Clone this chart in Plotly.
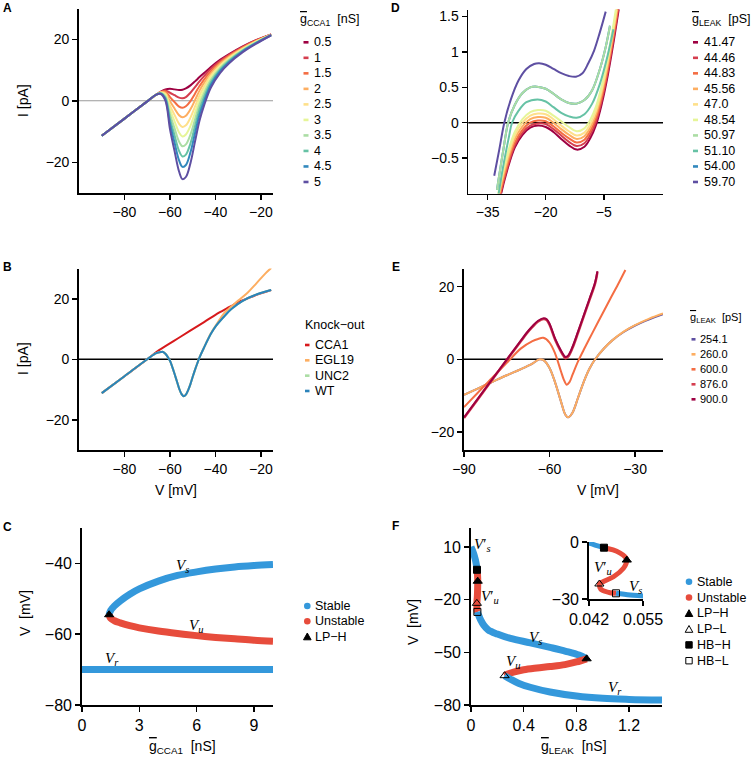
import plotly.graph_objects as go

W, H = 755, 758
SANS = "Liberation Sans, Arial, Helvetica, sans-serif"
SERIF = "Liberation Serif, Times New Roman, serif"
BLUE = "#3498db"
RED = "#e74c3c"
SPECTRAL10 = ["#9e0142", "#d53e4f", "#f46d43", "#fdae61", "#fee08b",
              "#e6f598", "#abdda4", "#66c2a5", "#3288bd", "#5e4fa2"]

# ---------------- panel A: I-V curves for several g_CCA1 ----------------
A_LABELS = ["0.5", "1", "1.5", "2", "2.5", "3", "3.5", "4", "4.5", "5"]
A_V = [-90, -80, -70, -66, -64, -62, -60, -58, -56, -54.5, -53, -51, -49, -47,
       -45, -42, -38, -34, -28, -22, -15.5]
A_I_05 = [-11.4, -5.8, -0.2, 2.0, 3.0, 3.7, 3.9, 3.7, 3.5, 3.6, 4.0, 5.0, 6.3, 7.7, 9.0, 11.0, 13.3, 15.2, 17.7, 19.8, 21.6]
A_I_10 = [-11.4, -5.8, -0.2, 2.0, 2.9, 3.3, 2.6, 1.8, 1.0, 0.8, 1.2, 2.6, 4.4, 6.3, 8.0, 10.4, 12.9, 14.9, 17.5, 19.7, 21.6]
A_I_15 = [-11.4, -5.8, -0.2, 2.0, 2.8, 3.0, 1.2, -0.4, -1.9, -2.3, -1.8, -0.1, 2.3, 4.8, 6.9, 9.6, 12.4, 14.6, 17.3, 19.6, 21.5]
A_I_20 = [-11.4, -5.8, -0.2, 2.0, 2.8, 2.6, -0.2, -2.5, -4.7, -5.4, -4.9, -2.8, 0.2, 3.3, 5.8, 8.9, 12.0, 14.3, 17.1, 19.4, 21.5]
A_I_25 = [-11.4, -5.8, -0.2, 2.0, 2.7, 2.2, -1.6, -4.6, -7.5, -8.5, -8.0, -5.5, -1.9, 1.8, 4.6, 8.2, 11.5, 14.0, 16.9, 19.3, 21.5]
A_I_30 = [-11.4, -5.8, -0.2, 2.0, 2.6, 1.8, -2.9, -6.7, -10.3, -11.6, -11.0, -8.2, -3.9, 0.3, 3.5, 7.5, 11.1, 13.6, 16.7, 19.2, 21.4]
A_I_35 = [-11.4, -5.8, -0.2, 2.0, 2.5, 1.4, -4.4, -8.9, -13.3, -14.8, -14.2, -11.0, -6.1, -1.2, 2.4, 6.8, 10.6, 13.3, 16.5, 19.0, 21.4]
A_I_40 = [-11.4, -5.8, -0.2, 2.0, 2.4, 0.9, -5.9, -11.2, -16.3, -18.1, -17.5, -13.9, -8.3, -2.8, 1.2, 6.0, 10.1, 13.0, 16.3, 18.9, 21.4]
A_I_45 = [-11.4, -5.8, -0.2, 2.0, 2.3, 0.5, -7.4, -13.6, -19.4, -21.5, -20.9, -16.8, -10.6, -4.5, -0.1, 5.2, 9.6, 12.6, 16.1, 18.8, 21.3]
A_I_50 = [-11.4, -5.8, -0.2, 2.0, 2.2, 0.0, -9.2, -16.3, -23.0, -25.5, -24.8, -20.3, -13.3, -6.4, -1.5, 4.3, 9.0, 12.2, 15.8, 18.6, 21.3]

# ---------------- panel B: knock-outs ----------------
B_LABELS = ["CCA1", "EGL19", "UNC2", "WT"]
B_COLORS = ["#d7191c", "#fdae61", "#abdda4", "#2b83ba"]
B_V_WT = [-90, -80, -70, -66, -64, -63, -62, -61, -60, -59, -58, -57, -56, -55, -54, -53,
          -52, -51, -50, -49, -48, -47, -45, -42, -40, -36, -33, -28, -22, -15.5]
B_I_WT = [-11.2, -5.6, 0.0, 2.0, 2.4, 2.4, 1.8, 0.8, -0.5, -2.5, -4.8, -7.2, -9.6, -11.4, -12.2, -11.7,
          -10.2, -8.2, -5.8, -3.5, -1.4, 0.6, 3.9, 8.4, 10.8, 14.3, 16.6, 19.3, 21.4, 22.9]
B_V_CCA1 = [-90, -80, -70, -64.8, -55, -45, -40, -35, -30, -25, -20, -15.5]
B_I_CCA1 = [-11.2, -5.6, 0.0, 3.0, 7.6, 12.3, 14.7, 16.8, 18.8, 20.4, 21.8, 22.9]
B_V_EGL19 = [-90, -80, -70, -66, -64, -63, -62, -61, -60, -59, -58, -57, -56, -55, -54, -53,
             -52, -51, -50, -49, -48, -47, -45, -42, -40, -36, -33, -30, -26, -22, -18, -15.5]
B_I_EGL19 = [-11.2, -5.6, 0.0, 2.0, 2.4, 2.4, 1.8, 0.8, -0.5, -2.5, -4.8, -7.2, -9.6, -11.4, -12.2, -11.7,
             -10.2, -8.2, -5.8, -3.5, -1.4, 0.6, 3.9, 8.6, 11.0, 15.4, 17.4, 19.4, 21.9, 25.1, 28.4, 30.2]
B_V_UNC2 = B_V_WT
B_I_UNC2 = B_I_WT

# ---------------- panel C: bifurcation vs g_CCA1 ----------------
C_G_BRANCH = [1.42, 1.5, 1.7, 2.0, 2.5, 3.0, 4.0, 5.0, 6.0, 7.0, 8.0, 9.0, 10.0]
C_V_STABLE = [-54.5, -53.3, -52.0, -50.6, -48.7, -47.2, -45.0, -43.4, -42.4, -41.6, -41.0, -40.6, -40.3]
C_V_UNSTABLE = [-54.5, -55.5, -56.2, -56.8, -57.6, -58.2, -59.1, -59.8, -60.4, -60.9, -61.3, -61.7, -62.0]
C_G_REST = [0, 10]
C_V_REST = [-70, -70]
C_LPH_G = [1.42]
C_LPH_V = [-54.5]

# ---------------- panel D: I-V near the upper fold ----------------
D_LABELS = ["41.47", "44.46", "44.83", "45.56", "47.0", "48.54", "50.97", "51.10", "54.00", "59.70"]
D_V_LOW = [-32.5, -31.5, -30, -28, -26, -24, -22, -20, -18, -16, -14, -12, -10, -8.5, -7, -5.5, -4, -2.5, -1]
D_I_4147 = [-1.30, -1.00, -0.68, -0.35, -0.17, -0.07, -0.04, -0.06, -0.13, -0.23, -0.32, -0.38, -0.34, -0.22, -0.03, 0.27, 0.66, 1.13, 1.65]
D_I_4446 = [-1.27, -0.97, -0.65, -0.32, -0.14, -0.04, -0.01, -0.02, -0.09, -0.18, -0.27, -0.33, -0.29, -0.17, 0.02, 0.32, 0.71, 1.18, 1.70]
D_I_4483 = [-1.23, -0.93, -0.61, -0.28, -0.10, 0.00, 0.03, 0.02, -0.05, -0.14, -0.22, -0.28, -0.24, -0.12, 0.07, 0.37, 0.76, 1.23, 1.75]
D_I_4556 = [-1.18, -0.88, -0.56, -0.23, -0.05, 0.05, 0.08, 0.07, 0.00, -0.09, -0.17, -0.23, -0.19, -0.07, 0.12, 0.42, 0.81, 1.28, 1.80]
D_I_4700 = [-1.13, -0.83, -0.51, -0.18, 0.00, 0.10, 0.13, 0.12, 0.05, -0.04, -0.12, -0.18, -0.14, -0.02, 0.17, 0.47, 0.86, 1.33, 1.85]
D_I_4854 = [-1.08, -0.78, -0.46, -0.13, 0.05, 0.15, 0.18, 0.17, 0.10, 0.02, -0.06, -0.12, -0.08, 0.04, 0.23, 0.53, 0.92, 1.39, 1.91]
D_V_5097 = [-32.6, -31, -29.7, -28, -26, -24, -22.3, -20, -18, -16, -14, -12, -10, -8, -6, -4.5, -3.4]
D_I_5097 = [-0.95, -0.40, 0.00, 0.25, 0.42, 0.50, 0.51, 0.48, 0.41, 0.33, 0.28, 0.27, 0.32, 0.46, 0.76, 1.07, 1.37]
D_V_5110 = [-32.2, -31, -29.5, -28.7, -27, -25, -22.1, -20, -18, -16, -14, -12, -10, -8, -6, -4, -2.5]
D_I_5110 = [-1.02, -0.62, -0.20, 0.00, 0.17, 0.29, 0.33, 0.30, 0.22, 0.14, 0.09, 0.07, 0.12, 0.27, 0.55, 0.95, 1.32]
D_V_5400 = D_V_5097
D_I_5400 = D_I_5097
D_V_5970 = [-33.3, -32, -30.7, -29, -27, -25, -23, -21.7, -20, -18, -16, -14, -12.2, -10.5, -9, -7.5, -6, -4.5]
D_I_5970 = [-0.75, -0.38, 0.00, 0.33, 0.60, 0.76, 0.83, 0.84, 0.82, 0.76, 0.70, 0.66, 0.65, 0.70, 0.84, 1.02, 1.28, 1.57]

# ---------------- panel E: I-V for large g_LEAK ----------------
E_LABELS = ["254.1", "260.0", "600.0", "876.0", "900.0"]
E_COLORS = ["#5e4fa2", "#fdae61", "#f46d43", "#d53e4f", "#9e0142"]
E_V_260 = [-90, -85, -80, -75, -70, -66, -63.5, -62, -60, -58, -56, -54.5, -53.5, -52, -50, -48,
           -46, -44, -41, -38, -34, -30, -25, -20.2]
E_I_260 = [-9.8, -8.0, -6.2, -4.4, -2.7, -1.2, 0.0, -0.3, -2.4, -6.5, -11.6, -15.2, -16.0, -14.8, -10.6, -6.2,
           -2.6, 0.0, 2.9, 5.2, 7.6, 9.4, 11.2, 12.6]
E_V_254 = E_V_260
E_I_254 = [-9.8, -8.0, -6.2, -4.4, -2.7, -1.2, 0.0, -0.3, -2.4, -6.5, -11.6, -15.2, -16.0, -14.8, -10.6, -6.2,
           -2.6, 0.0, 2.9, 5.2, 7.5, 9.3, 11.0, 12.4]
E_V_600 = [-90, -85, -80, -75, -70, -66, -64, -62.2, -60, -58, -56, -55, -54, -53, -52, -50, -48,
           -45, -42, -39, -36, -33.4]
E_I_600 = [-13.2, -9.1, -5.0, -1.0, 3.0, 5.0, 5.6, 5.9, 4.6, 1.5, -3.3, -5.6, -7.0, -6.3, -4.4, -0.6, 2.6,
           7.2, 11.7, 16.2, 20.6, 24.6]
E_V_900 = [-90, -85, -80, -75, -70, -68, -66, -64, -62, -61, -60, -58, -56, -55, -54.4, -53.5, -52,
           -50, -48, -46, -44, -43.2]
E_I_900 = [-16.0, -10.7, -5.4, -0.1, 5.2, 7.3, 9.1, 10.6, 11.3, 11.0, 9.8, 5.6, 2.4, 1.1, 0.6, 1.0, 3.3,
           7.6, 12.1, 16.6, 21.2, 24.3]
E_V_876 = E_V_900
E_I_876 = [-16.2, -10.9, -5.5, -0.2, 5.0, 7.1, 8.9, 10.4, 11.1, 10.8, 9.5, 5.3, 2.1, 0.8, 0.3, 0.7, 3.0,
           7.3, 11.8, 16.3, 20.9, 24.0]

# ---------------- panel F: bifurcation vs g_LEAK ----------------
F_G_S1 = [0.0, 0.01, 0.02, 0.03, 0.037, 0.0421, 0.0439, 0.0456]
F_V_S1 = [10.1, 8.3, 6.2, 3.6, 1.5, -0.7, -1.9, -3.0]
F_G_U1 = [0.0456, 0.0478, 0.0495, 0.0507, 0.0511, 0.0509, 0.0503, 0.0479, 0.0454, 0.0445, 0.0446, 0.0451, 0.0471, 0.0485]
F_V_U1 = [-3.0, -4.2, -5.9, -7.8, -9.5, -11.5, -13.8, -18.3, -20.9, -22.1, -23.8, -25.3, -26.7, -27.0]
F_G_S2 = [0.0485, 0.0519, 0.0551, 0.062, 0.075, 0.095, 0.13, 0.2, 0.3, 0.45, 0.6, 0.72, 0.82, 0.878]
F_V_S2 = [-27.0, -27.9, -28.4, -29.6, -31.8, -34.4, -37.2, -39.6, -42.1, -44.6, -47.2, -49.4, -51.6, -53.7]
F_G_U2 = [0.878, 0.8, 0.713, 0.6, 0.5, 0.4, 0.33, 0.28, 0.255]
F_V_U2 = [-53.7, -55.5, -57.0, -58.1, -58.9, -59.9, -61.1, -62.3, -63.3]
F_G_S3 = [0.255, 0.3, 0.36, 0.45, 0.6, 0.8, 1.0, 1.2, 1.45]
F_V_S3 = [-63.3, -65.3, -67.6, -69.9, -72.6, -74.9, -76.2, -76.8, -77.2]
F_LPH_G = [0.0511, 0.878]
F_LPH_V = [-9.5, -53.7]
F_LPL_G = [0.0445, 0.255]
F_LPL_V = [-22.1, -63.3]
F_HBH_G = [0.0456]
F_HBH_V = [-3.0]
F_HBL_G = [0.0485]
F_HBL_V = [-27.0]

# tick values
A_XT, A_YT = [-80, -60, -40, -20], [-20, 0, 20]
D_XT, D_YT = [-35, -20, -5], [-0.5, 0, 0.5, 1, 1.5]
E_XT, E_YT = [-90, -60, -30], [-20, 0, 20]
C_XT, C_YT = [0, 3, 6, 9], [-80, -60, -40]
F_XT, F_YT = [0, 0.4, 0.8, 1.2], [-80, -50, -20, 10]
IN_XT, IN_YT = [0.042, 0.055], [-30, 0]


def xp(x):
    return x / W


def yp(y):
    return 1 - y / H


fig = go.Figure()
shapes = []
annotations = []


def ref(n):
    return ("x", "y") if n == 1 else ("x%d" % n, "y%d" % n)


def line(n, x, y, color, width, shape="spline"):
    xr, yr = ref(n)
    fig.add_trace(go.Scatter(x=x, y=y, mode="lines", xaxis=xr, yaxis=yr,
                             line=dict(color=color, width=width, shape=shape),
                             showlegend=False, hoverinfo="skip"))


def points(n, x, y, symbol, size=8):
    xr, yr = ref(n)
    fig.add_trace(go.Scatter(x=x, y=y, mode="markers", xaxis=xr, yaxis=yr,
                             marker=dict(symbol=symbol, size=size, color="black",
                                         line=dict(color="black", width=1)),
                             showlegend=False, hoverinfo="skip", cliponaxis=False))


def zero_line(n, color="black", width=1.6):
    xr, yr = ref(n)
    shapes.append(dict(type="line", xref=xr + " domain", yref=yr, x0=0, x1=1, y0=0, y1=0,
                       line=dict(color=color, width=width), layer="below"))


def text(x, y, s, size=12.5, anchor="left", family=SANS, angle=0, xref="paper", yref="paper"):
    annotations.append(dict(x=x, y=y, xref=xref, yref=yref, text=s, showarrow=False,
                            xanchor=anchor, yanchor="middle", textangle=angle,
                            font=dict(family=family, size=size, color="black")))


# ---- axes ----
layout_axes = {}
PANELS = [
    # n, x px span, y px span, xrange, yrange, xticks, yticks, font size
    (1, (79, 273), (8.5, 193), [-100, -14.7], [-30, 30], A_XT, A_YT, 14),
    (2, (468.3, 663), (9.5, 193.5), [-40, 10.3], [-1.0, 1.6], D_XT, D_YT, 14),
    (3, (79, 273), (268.5, 450), [-100, -14.7], [-30, 30], A_XT, A_YT, 14),
    (4, (464, 663), (268.5, 450), [-90, -20.2], [-25, 25], E_XT, E_YT, 14),
    (5, (82, 273), (528, 705), [0, 10], [-80, -30], C_XT, C_YT, 16),
    (6, (471, 662), (528, 705), [0, 1.45], [-80, 20.8], F_XT, F_YT, 16),
    (7, (589, 643), (542, 599), [0.042, 0.055], [-30, 0], IN_XT, IN_YT, 16),
]
for n, (x0, x1), (y0, y1), xr, yr, xt, yt, fs in PANELS:
    common = dict(showline=True, linecolor="black", linewidth=1.8, ticks="outside",
                  ticklen=5, tickwidth=1.5, tickcolor="black", showgrid=False,
                  zeroline=False, fixedrange=True, automargin=False,
                  tickfont=dict(family=SANS, size=fs, color="black"))
    xname = "xaxis" if n == 1 else "xaxis%d" % n
    yname = "yaxis" if n == 1 else "yaxis%d" % n
    xr_, yr_ = ref(n)
    layout_axes[xname] = dict(domain=[xp(x0), xp(x1)], range=xr, tickvals=xt,
                              anchor=yr_, **common)
    layout_axes[yname] = dict(domain=[yp(y1), yp(y0)], range=yr, tickvals=yt,
                              anchor=xr_, **common)

# ---- panel A ----
zero_line(1, color="#9a9a9a", width=1)
for ys, c in zip([A_I_05, A_I_10, A_I_15, A_I_20, A_I_25, A_I_30, A_I_35, A_I_40, A_I_45, A_I_50],
                 SPECTRAL10):
    line(1, A_V, ys, c, 2)

# ---- panel D ----
zero_line(2)
D_SERIES = [(D_V_LOW, D_I_4147), (D_V_LOW, D_I_4446), (D_V_LOW, D_I_4483), (D_V_LOW, D_I_4556),
            (D_V_LOW, D_I_4700), (D_V_LOW, D_I_4854), (D_V_5400, D_I_5400), (D_V_5097, D_I_5097),
            (D_V_5110, D_I_5110), (D_V_5970, D_I_5970)]
D_SERIES_COLORS = [SPECTRAL10[i] for i in (0, 1, 2, 3, 4, 5, 8, 6, 7, 9)]
for (xs, ys), c in zip(D_SERIES, D_SERIES_COLORS):
    line(2, xs, ys, c, 2)

# ---- panel B ----
zero_line(3)
for (xs, ys), c in zip([(B_V_CCA1, B_I_CCA1), (B_V_EGL19, B_I_EGL19), (B_V_UNC2, B_I_UNC2),
                        (B_V_WT, B_I_WT)], B_COLORS):
    line(3, xs, ys, c, 2)

# ---- panel E ----
zero_line(4)
for (xs, ys), c, w in zip([(E_V_254, E_I_254), (E_V_260, E_I_260), (E_V_600, E_I_600),
                           (E_V_876, E_I_876), (E_V_900, E_I_900)], E_COLORS, [2, 2, 2, 2.5, 2]):
    line(4, xs, ys, c, w)

# ---- panel C ----
line(5, C_G_BRANCH, C_V_STABLE, BLUE, 7)
line(5, C_G_BRANCH, C_V_UNSTABLE, RED, 7)
line(5, C_G_REST, C_V_REST, BLUE, 7, shape="linear")
points(5, C_LPH_G, C_LPH_V, "triangle-up", 8)

# ---- panel F (main + inset) ----
for n, w in ((6, 7), (7, 5)):
    line(n, F_G_S1, F_V_S1, BLUE, w)
    line(n, F_G_U1, F_V_U1, RED, w)
    line(n, F_G_S2, F_V_S2, BLUE, w)
    line(n, F_G_U2, F_V_U2, RED, w)
    line(n, F_G_S3, F_V_S3, BLUE, w)
    points(n, F_LPH_G, F_LPH_V, "triangle-up", 8)
    points(n, F_LPL_G, F_LPL_V, "triangle-up-open", 8)
    points(n, F_HBH_G, F_HBH_V, "square", 7)
    points(n, F_HBL_G, F_HBL_V, "square-open", 7)


# ---- curve labels (math) ----
def vlab(sub, prime=False):
    p = "\u2032" if prime else ""
    return "<i>V</i>%s<sub><i>%s</i></sub>" % (p, sub)


for x, y, s in [(5.25, -40.8, vlab("s")), (5.95, -57.8, vlab("u")), (1.56, -67.0, vlab("r"))]:
    text(x, y, s, size=15, anchor="center", family=SERIF, xref="x5", yref="y5")
for x, y, s in [(0.085, 11.1, vlab("s", True)), (0.144, -18.4, vlab("u", True)),
                (0.486, -42.0, vlab("s")), (0.32, -55.4, vlab("u")), (1.093, -70.5, vlab("r"))]:
    text(x, y, s, size=15, anchor="center", family=SERIF, xref="x6", yref="y6")
for x, y, s in [(0.0437, 3.7, vlab("s", True)), (0.0453, -13.8, vlab("u", True)),
                (0.0531, -23.5, vlab("s"))]:
    text(x, y, s, size=15, anchor="center", family=SERIF, xref="x7", yref="y7")

# ---- panel letters ----
for s, x, y in [("A", 7.5, 8), ("D", 395, 8), ("B", 7.5, 266.5), ("E", 395.5, 266.5),
                ("C", 7.5, 526.5), ("F", 395, 525.5)]:
    text(xp(x), yp(y), "<b>%s</b>" % s, size=12, anchor="center")

# ---- axis titles ----
GBAR = "<span style='text-decoration:overline'>g</span>"
NB = "\u00a0"
text(xp(23), yp(101), "I [pA]", size=14, anchor="center", angle=-90)
text(xp(23), yp(359), "I [pA]", size=14, anchor="center", angle=-90)
text(xp(176), yp(490), "V [mV]", size=14, anchor="center")
text(xp(598), yp(490), "V [mV]", size=14, anchor="center")
text(xp(25), yp(613), "V" + NB + NB + "[mV]", size=14, anchor="center", angle=-90)
text(xp(413), yp(622), "V" + NB + NB + "[mV]", size=14, anchor="center", angle=-90)
text(xp(182), yp(747), GBAR + "<sub>CCA1</sub>" + NB + NB + "[nS]", size=14, anchor="center")
text(xp(574), yp(747), GBAR + "<sub>LEAK</sub>" + NB + NB + "[nS]", size=14, anchor="center")


# ---- hand-drawn legends ----
def dash(xa, xb, y, color):
    shapes.append(dict(type="line", xref="paper", yref="paper", x0=xp(xa), x1=xp(xb),
                       y0=yp(y), y1=yp(y), line=dict(color=color, width=2.6)))


def glyph(kind, cx, cy, color="black"):
    r = 3.3
    if kind == "circle":
        shapes.append(dict(type="circle", xref="paper", yref="paper", x0=xp(cx - r), x1=xp(cx + r),
                           y0=yp(cy + r), y1=yp(cy - r), fillcolor=color, line=dict(width=0)))
    elif kind.startswith("tri"):
        path = "M %f,%f L %f,%f L %f,%f Z" % (xp(cx - 3.8), yp(cy + 3.2), xp(cx + 3.8), yp(cy + 3.2),
                                               xp(cx), yp(cy - 3.6))
        open_ = kind.endswith("open")
        shapes.append(dict(type="path", xref="paper", yref="paper", path=path,
                           fillcolor="white" if open_ else "black", line=dict(color="black", width=1)))
    else:
        open_ = kind.endswith("open")
        shapes.append(dict(type="rect", xref="paper", yref="paper", x0=xp(cx - 3.2), x1=xp(cx + 3.2),
                           y0=yp(cy + 3.2), y1=yp(cy - 3.2),
                           fillcolor="white" if open_ else "black", line=dict(color="black", width=1)))


text(xp(298), yp(20), GBAR + "<sub>CCA1</sub>" + NB + NB + "[nS]", size=12.5)
for i, (lab, c) in enumerate(zip(A_LABELS, SPECTRAL10)):
    y = 42.3 + i * 15.52
    dash(303.5, 308.5, y, c)
    text(xp(312), yp(y), lab, size=12.5)

text(xp(690), yp(20), GBAR + "<sub>LEAK</sub>" + NB + NB + "[pS]", size=12.5)
for i, (lab, c) in enumerate(zip(D_LABELS, SPECTRAL10)):
    y = 42.3 + i * 15.52
    dash(693, 698, y, c)
    text(xp(701.5), yp(y), lab, size=12.5)

text(xp(303), yp(325), "Knock\u2212out", size=12.5)
for i, (lab, c) in enumerate(zip(B_LABELS, B_COLORS)):
    y = 345 + i * 15.33
    dash(305, 309.5, y, c)
    text(xp(312.5), yp(y), lab, size=12.5)

text(xp(688), yp(318), GBAR + "<sub>LEAK</sub>" + NB + NB + "[pS]", size=11)
for i, (lab, c) in enumerate(zip(E_LABELS, E_COLORS)):
    y = 339.3 + i * 15
    dash(691.5, 695.5, y, c)
    text(xp(697.5), yp(y), lab, size=11)

for i, (lab, kind, c) in enumerate([("Stable", "circle", BLUE), ("Unstable", "circle", RED),
                                     ("LP\u2212H", "tri", "black")]):
    y = 606 + i * 15.3
    glyph(kind, 307.3, y, c)
    text(xp(312.5), yp(y), lab, size=12.5)

for i, (lab, kind, c) in enumerate([("Stable", "circle", BLUE), ("Unstable", "circle", RED),
                                     ("LP\u2212H", "tri", "black"), ("LP\u2212L", "tri-open", "black"),
                                     ("HB\u2212H", "sq", "black"), ("HB\u2212L", "sq-open", "black")]):
    y = 581.7 + i * 15.8
    glyph(kind, 689, y, c)
    text(xp(694.5), yp(y), lab, size=12.5)

fig.update_layout(template="none", width=W, height=H, margin=dict(l=0, r=0, t=0, b=0, pad=0),
                  paper_bgcolor="white", plot_bgcolor="white", showlegend=False,
                  shapes=shapes, annotations=annotations, **layout_axes)
fig.write_html("out.html", config={"displayModeBar": False, "staticPlot": True},
               post_script="document.body.style.margin='0px';")
